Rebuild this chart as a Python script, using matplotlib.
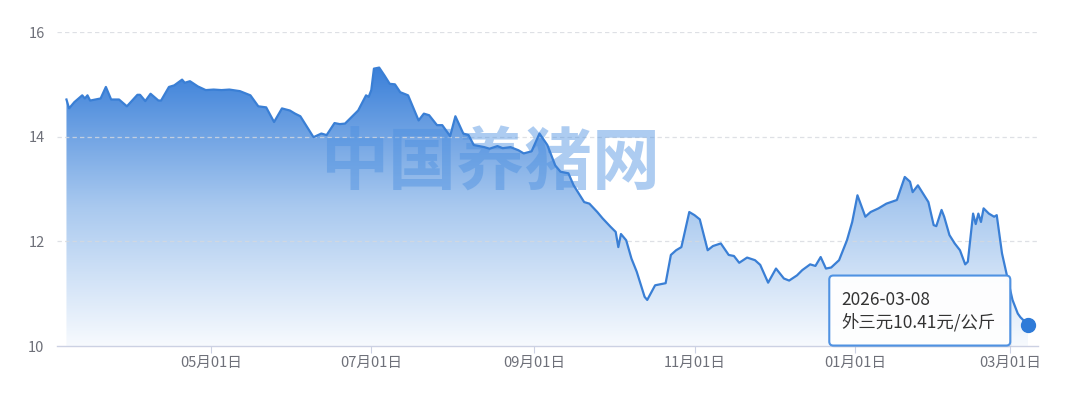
import numpy as np
import pandas as pd
import matplotlib
matplotlib.use("Agg")
import matplotlib.pyplot as plt
import matplotlib.dates as mdates
from matplotlib.patches import FancyBboxPatch
from matplotlib.colors import LinearSegmentedColormap
from matplotlib.transforms import IdentityTransform

plt.rcParams['font.family'] = ['Noto Sans CJK SC', 'DejaVu Sans']

# price series
dates = [
    "2025-03-07", "2025-03-08", "2025-03-10", "2025-03-13", "2025-03-14", "2025-03-15",
    "2025-03-16", "2025-03-20", "2025-03-22", "2025-03-24", "2025-03-27", "2025-03-30",
    "2025-04-03", "2025-04-04", "2025-04-06", "2025-04-08", "2025-04-11", "2025-04-12",
    "2025-04-15", "2025-04-17", "2025-04-20", "2025-04-21", "2025-04-23", "2025-04-26",
    "2025-04-29", "2025-05-02", "2025-05-05", "2025-05-08", "2025-05-12", "2025-05-16",
    "2025-05-19", "2025-05-22", "2025-05-25", "2025-05-28", "2025-05-31", "2025-06-02",
    "2025-06-04", "2025-06-09", "2025-06-12", "2025-06-14", "2025-06-17", "2025-06-19",
    "2025-06-21", "2025-06-26", "2025-06-29", "2025-06-30", "2025-07-01", "2025-07-02",
    "2025-07-04", "2025-07-06", "2025-07-08", "2025-07-10", "2025-07-12", "2025-07-15",
    "2025-07-19", "2025-07-21", "2025-07-23", "2025-07-26", "2025-07-28", "2025-07-31",
    "2025-08-02", "2025-08-05", "2025-08-07", "2025-08-09", "2025-08-13", "2025-08-15",
    "2025-08-18", "2025-08-20", "2025-08-23", "2025-08-26", "2025-08-28", "2025-08-31",
    "2025-09-03", "2025-09-06", "2025-09-09", "2025-09-11", "2025-09-14", "2025-09-16",
    "2025-09-20", "2025-09-22", "2025-09-25", "2025-09-27", "2025-09-30", "2025-10-02",
    "2025-10-03", "2025-10-04", "2025-10-06", "2025-10-08", "2025-10-10", "2025-10-13",
    "2025-10-14", "2025-10-17", "2025-10-19", "2025-10-21", "2025-10-23", "2025-10-25",
    "2025-10-27", "2025-10-30", "2025-11-01", "2025-11-03", "2025-11-06", "2025-11-08",
    "2025-11-11", "2025-11-14", "2025-11-16", "2025-11-18", "2025-11-21", "2025-11-24",
    "2025-11-26", "2025-11-29", "2025-12-02", "2025-12-05", "2025-12-07", "2025-12-10",
    "2025-12-12", "2025-12-15", "2025-12-17", "2025-12-19", "2025-12-21", "2025-12-23",
    "2025-12-26", "2025-12-29", "2025-12-31", "2026-01-02", "2026-01-05", "2026-01-07",
    "2026-01-10", "2026-01-13", "2026-01-17", "2026-01-20", "2026-01-22", "2026-01-23",
    "2026-01-25", "2026-01-27", "2026-01-29", "2026-01-31", "2026-02-01", "2026-02-03",
    "2026-02-04", "2026-02-06", "2026-02-08", "2026-02-10", "2026-02-12", "2026-02-13",
    "2026-02-15", "2026-02-16", "2026-02-17", "2026-02-18", "2026-02-19", "2026-02-21",
    "2026-02-23", "2026-02-24", "2026-02-26", "2026-02-28", "2026-03-02", "2026-03-04",
    "2026-03-05", "2026-03-06", "2026-03-08",
]
prices = [
    14.71, 14.54, 14.66, 14.79, 14.73, 14.79,
    14.69, 14.73, 14.95, 14.71, 14.71, 14.58,
    14.80, 14.80, 14.68, 14.82, 14.69, 14.69,
    14.95, 14.98, 15.09, 15.03, 15.06, 14.96,
    14.89, 14.90, 14.89, 14.90, 14.87, 14.79,
    14.58, 14.56, 14.28, 14.54, 14.50, 14.44,
    14.39, 13.99, 14.06, 14.03, 14.26, 14.24,
    14.25, 14.50, 14.79, 14.76, 14.89, 15.30,
    15.32, 15.17, 15.01, 15.00, 14.85, 14.79,
    14.31, 14.44, 14.41, 14.22, 14.22, 14.01,
    14.39, 14.06, 14.03, 13.84, 13.80, 13.77,
    13.82, 13.78, 13.80, 13.74, 13.68, 13.72,
    14.06, 13.84, 13.45, 13.33, 13.30, 13.07,
    12.75, 12.72, 12.56, 12.44, 12.28, 12.18,
    11.89, 12.14, 12.02, 11.67, 11.42, 10.94,
    10.88, 11.16, 11.18, 11.20, 11.74, 11.83,
    11.89, 12.56, 12.50, 12.42, 11.83, 11.91,
    11.96, 11.74, 11.72, 11.59, 11.69, 11.64,
    11.55, 11.21, 11.48, 11.29, 11.25, 11.35,
    11.45, 11.56, 11.53, 11.70, 11.48, 11.50,
    11.64, 12.02, 12.37, 12.88, 12.47, 12.56,
    12.63, 12.72, 12.79, 13.23, 13.14, 12.94,
    13.07, 12.91, 12.75, 12.31, 12.29, 12.60,
    12.47, 12.12, 11.96, 11.83, 11.56, 11.61,
    12.53, 12.33, 12.53, 12.37, 12.63, 12.53,
    12.47, 12.50, 11.77, 11.32, 10.88, 10.62,
    10.55, 10.50, 10.41,
]

tick_dates = ["2025-05-01", "2025-07-01", "2025-09-01", "2025-11-01", "2026-01-01", "2026-03-01"]
tick_labels = ["05月01日", "07月01日", "09月01日", "11月01日", "01月01日", "03月01日"]
y_ticks = [10, 12, 14, 16]

tip_title = "2026-03-08"
tip_text = "外三元10.41元/公斤"
watermark = "中国养猪网"

x = mdates.date2num(pd.to_datetime(dates))

fig = plt.figure(figsize=(10.8, 3.94), dpi=100)
ax = fig.add_axes([57 / 1080, 48 / 394, 981 / 1080, 314 / 394])

# gradient area under the line
grad = np.linspace(0, 1, 256).reshape(-1, 1)
cmap = LinearSegmentedColormap.from_list("area", ["#f7fafe", "#a9c9ef", "#3b80d9"])
im = ax.imshow(grad, cmap=cmap, aspect="auto", origin="lower",
               extent=[x[0], x[-1], y_ticks[0], max(prices)], zorder=1)
area = ax.fill_between(x, prices, y_ticks[0], color="none", lw=0)
im.set_clip_path(area.get_paths()[0], transform=ax.transData)

ax.plot(x, prices, color="#3a7fd5", lw=1.6, zorder=4, solid_joinstyle="round")
ax.plot(x[-1], prices[-1], "o", ms=10, color="#2f7bd8", zorder=6)

ax.text(0.441, 0.576, watermark, transform=ax.transAxes, fontsize=49,
        fontweight="bold", color="#4b8fe0", alpha=0.45, ha="center",
        va="center", zorder=3)

ax.set_xlim(x[0] - 3.6, x[-1] + 3.7)
ax.set_ylim(y_ticks[0], y_ticks[-1])

ax.set_xticks(mdates.date2num(pd.to_datetime(tick_dates)))
ax.set_xticklabels(tick_labels)
ax.set_yticks(y_ticks)
ax.set_yticklabels([str(v) for v in y_ticks])
ax.tick_params(axis="x", length=5, color="#ccd1e3", labelcolor="#6e7079",
               labelsize=10.5, pad=2)
ax.tick_params(axis="y", length=0, labelcolor="#6e7079", labelsize=10.5, pad=9)

for v in y_ticks[1:]:
    ax.axhline(v, color="#d6d9df", lw=0.9, ls=(0, (3.5, 2.5)), alpha=0.8, zorder=2)

for s in ["top", "right", "left"]:
    ax.spines[s].set_visible(False)
ax.spines["bottom"].set_color("#ccd1e3")
ax.spines["bottom"].set_linewidth(1.0)
ax.spines["bottom"].set_zorder(5)

# tooltip anchored on the last point
px, py = ax.transData.transform((x[-1], prices[-1]))
shadow = FancyBboxPatch((px - 197.5, py - 23), 181, 70,
                        boxstyle="round,pad=0,rounding_size=4",
                        transform=IdentityTransform(), facecolor="#8a9bb5",
                        edgecolor="none", alpha=0.18, zorder=6.5)
fig.add_artist(shadow)
box = FancyBboxPatch((px - 199, py - 21), 181, 70,
                     boxstyle="round,pad=0,rounding_size=4",
                     transform=IdentityTransform(), facecolor="white",
                     edgecolor="#4a8fe2", lw=1.5, alpha=0.97, zorder=7)
fig.add_artist(box)
fig.text(px - 187, py + 20, tip_title, transform=IdentityTransform(),
         fontsize=12.5, color="#333333", va="baseline", ha="left", zorder=8)
fig.text(px - 187, py - 3, tip_text, transform=IdentityTransform(),
         fontsize=12.5, color="#333333", va="baseline", ha="left", zorder=8)

fig.savefig("out.png", dpi=100)
